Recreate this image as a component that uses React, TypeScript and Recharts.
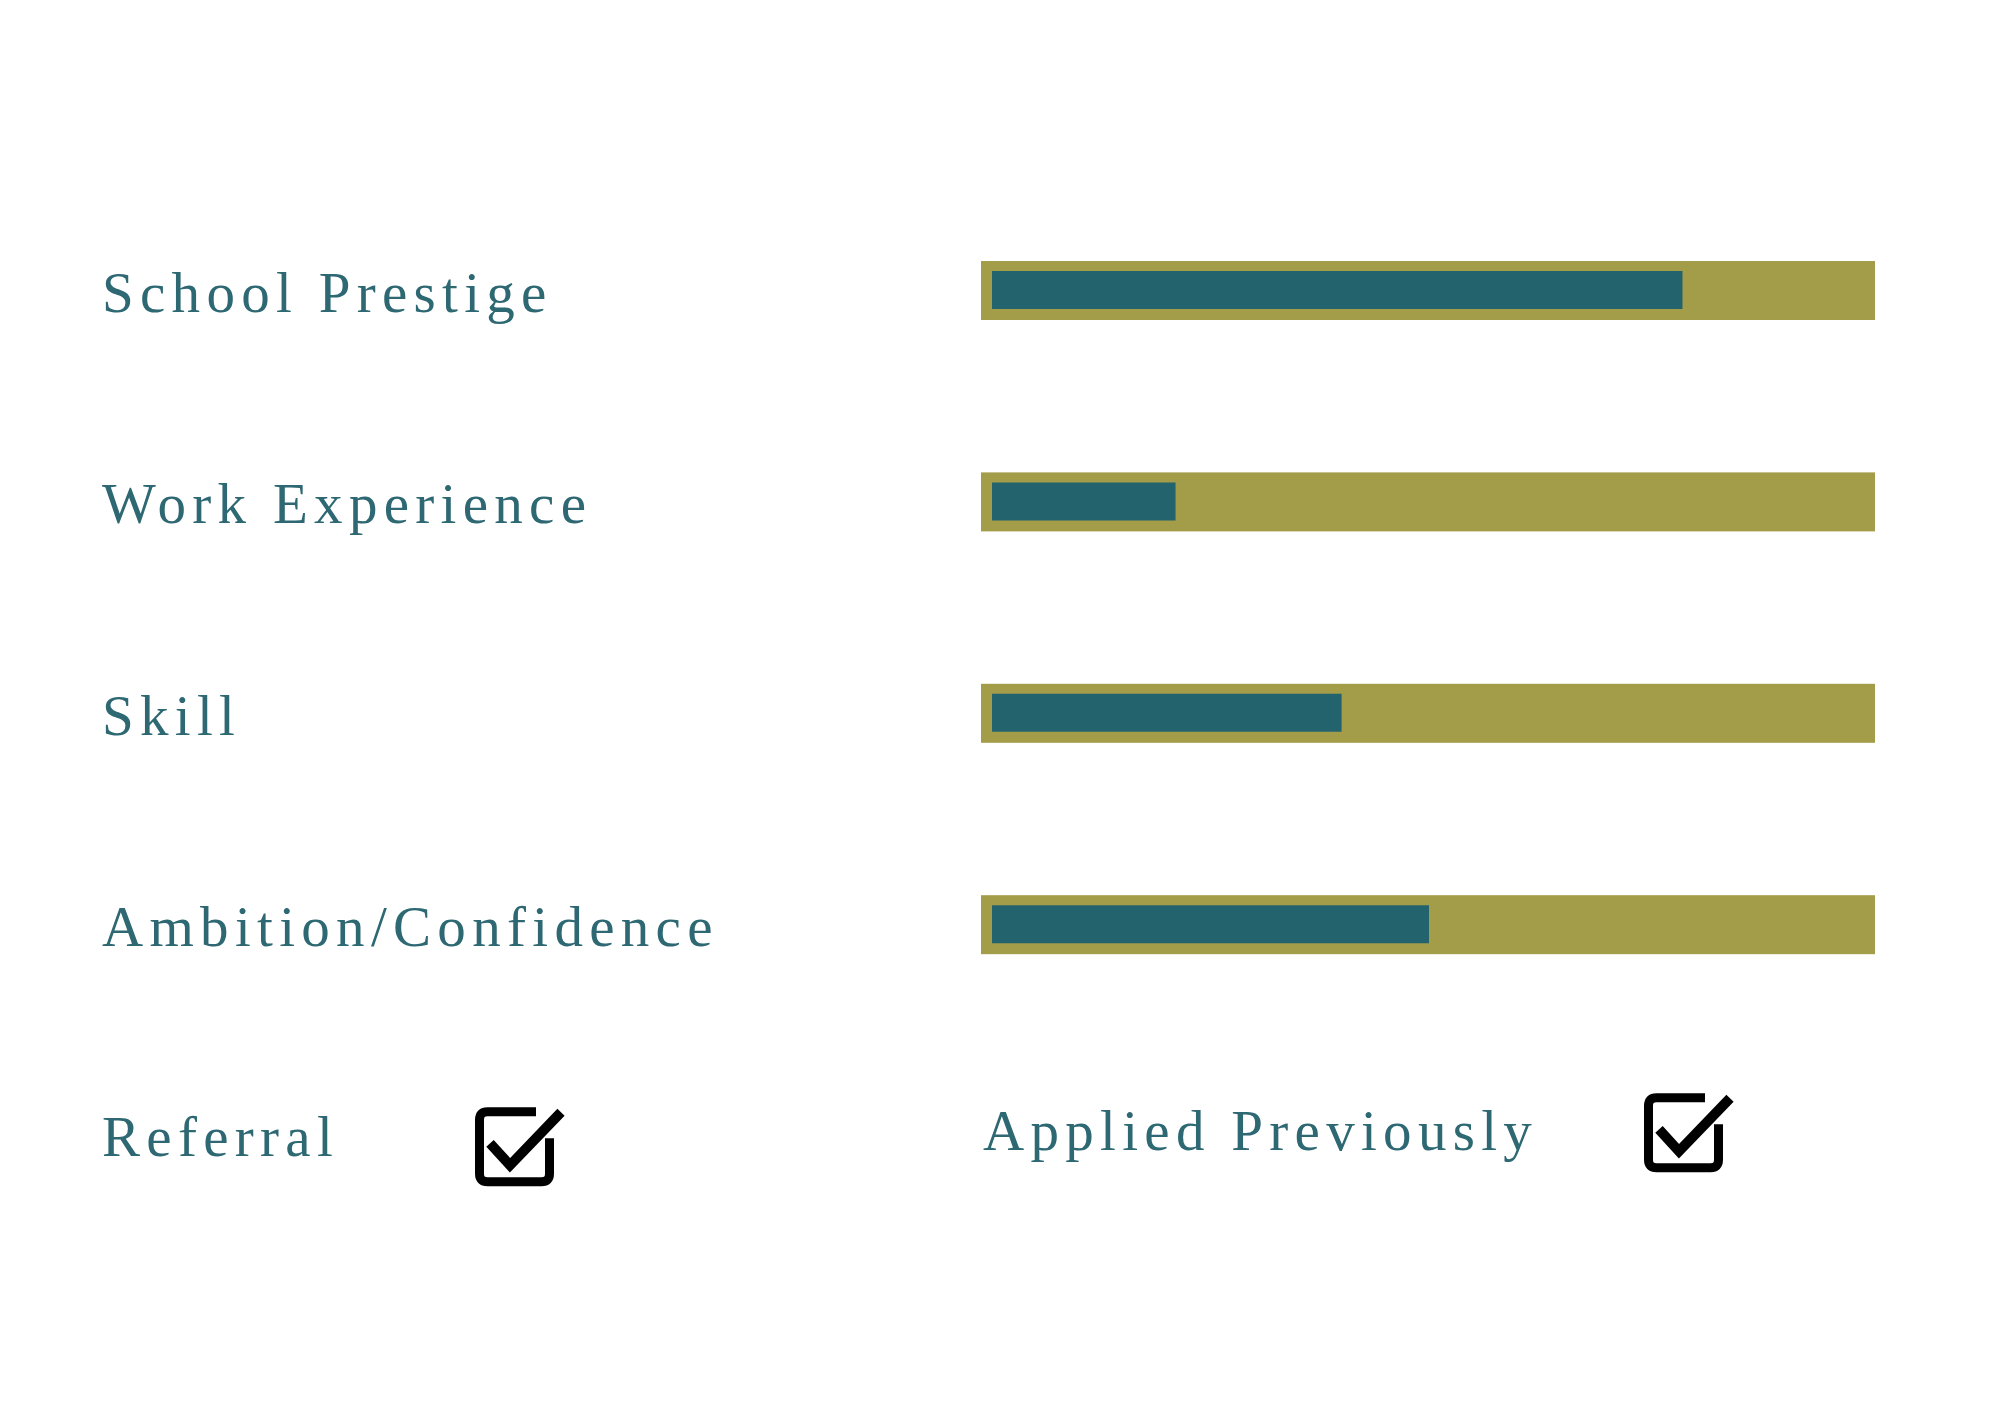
import { BarChart, Bar, XAxis, YAxis } from "recharts";

// ─── Data ─────────────────────────────────────────────────────────────────────

const CRITERIA = ["School Prestige", "Work Experience", "Skill", "Ambition/Confidence"];
const SCORES = [79, 21, 40, 50];

const FLAG_LABELS = ["Referral", "Applied Previously"];
const FLAG_CHECKED = [true, true];

const FLAG_ROW = "__flags__";

// ─── Style ────────────────────────────────────────────────────────────────────

const TEAL = "#23636e";
const OLIVE = "#a39c48";
const TEXT = "#2d6873";
const FONT = "'Liberation Serif', 'DejaVu Serif', serif";
const LABEL_SIZE = 57;
const LABEL_SPACING = 6.3;

const LABEL_X = 102;
// per flag: text x, text baseline offset, box x, box top offset (relative to row centre)
const FLAG_LAYOUT = [
  { tx: 102, ty: 21, bx: 475, by: -28 },
  { tx: 983, ty: 15, bx: 1644, by: -42 },
];

const rows = [
  ...CRITERIA.map((name, i) => ({ name, score: SCORES[i] })),
  { name: FLAG_ROW, score: null as number | null },
];

function CheckBox({ x, y, checked }: { x: number; y: number; checked: boolean }) {
  const l = x + 4.5, r = x + 74.5, t = y + 4.5, b = y + 74.5, c = 8;
  const box = checked
    ? `M${x + 61},${t} L${l + c},${t} Q${l},${t} ${l},${t + c} L${l},${b - c} Q${l},${b} ${l + c},${b} L${r - c},${b} Q${r},${b} ${r},${b - c} L${r},${y + 31}`
    : `M${l + c},${t} L${r - c},${t} Q${r},${t} ${r},${t + c} L${r},${b - c} Q${r},${b} ${r - c},${b} L${l + c},${b} Q${l},${b} ${l},${b - c} L${l},${t + c} Q${l},${t} ${l + c},${t} Z`;
  return (
    <g>
      <path d={box} fill="none" stroke="#000" strokeWidth={9} />
      {checked && (
        <path
          d={`M${x + 15},${y + 36} L${x + 35},${y + 58} L${x + 86},${y + 5}`}
          fill="none"
          stroke="#000"
          strokeWidth={10}
          strokeLinejoin="miter"
        />
      )}
    </g>
  );
}

function Label({ x, y, children }: { x: number; y: number; children: string }) {
  return (
    <text
      x={x}
      y={y}
      fill={TEXT}
      fontFamily={FONT}
      fontSize={LABEL_SIZE}
      letterSpacing={LABEL_SPACING}
      textAnchor="start"
    >
      {children}
    </text>
  );
}

function CriterionTick(props: any) {
  const { y, payload } = props;
  if (payload.value === FLAG_ROW) {
    return (
      <g>
        {FLAG_LABELS.map((label, i) => (
          <g key={label}>
            <Label x={FLAG_LAYOUT[i].tx} y={y + FLAG_LAYOUT[i].ty}>{label}</Label>
            <CheckBox x={FLAG_LAYOUT[i].bx} y={y + FLAG_LAYOUT[i].by} checked={FLAG_CHECKED[i]} />
          </g>
        ))}
      </g>
    );
  }
  return <Label x={LABEL_X} y={y + 22}>{payload.value}</Label>;
}

function TrackBackground(props: any) {
  const { x, y, width, height, index } = props;
  if (index >= SCORES.length || !Number.isFinite(y)) return <g />;
  return <rect x={x} y={y - 10} width={width} height={height + 21} fill={OLIVE} />;
}

export default function App() {
  return (
    <div style={{ position: "absolute", left: 0, top: 0, width: 2000, height: 1428, background: "#fff" }}>
      <BarChart
        width={2000}
        height={1428}
        data={rows}
        layout="vertical"
        barCategoryGap={0}
        margin={{ top: 184, right: 125, bottom: 187, left: 0 }}
      >
        <XAxis type="number" domain={[0, 100]} hide padding={{ left: 11, right: 9 }} />
        <YAxis
          type="category"
          dataKey="name"
          width={981}
          axisLine={false}
          tickLine={false}
          interval={0}
          tick={CriterionTick}
        />
        <Bar
          dataKey="score"
          barSize={38}
          fill={TEAL}
          background={TrackBackground}
          isAnimationActive={false}
        />
      </BarChart>
    </div>
  );
}
